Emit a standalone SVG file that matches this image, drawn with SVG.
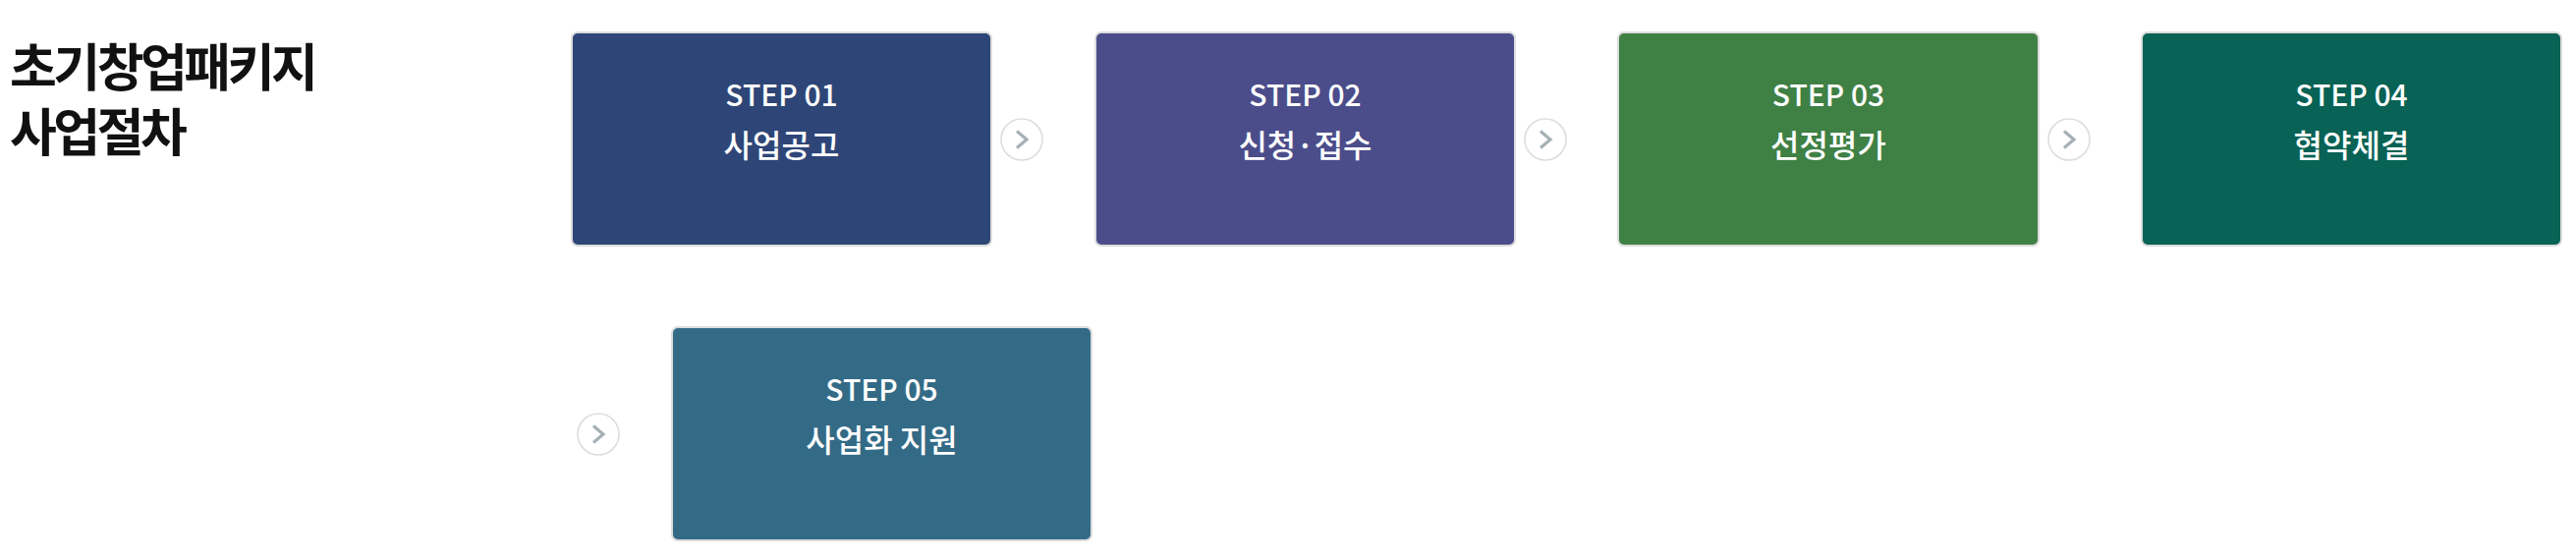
<svg xmlns="http://www.w3.org/2000/svg" xmlns:xlink="http://www.w3.org/1999/xlink" width="2622" height="570" viewBox="0 0 2622 570">
<style>
.box{stroke:#dcdcdc;stroke-width:2}
.step{font-family:"Noto Sans CJK KR","Noto Sans",sans-serif;font-size:30px;font-weight:500;fill:#ffffff;text-anchor:middle}
.lbl{font-family:"Noto Sans CJK KR","Noto Sans",sans-serif;font-size:32px;font-weight:500;fill:#ffffff;text-anchor:middle}
.title{font-family:"Noto Sans CJK KR","Noto Sans",sans-serif;font-size:52px;font-weight:bold;fill:#111111;letter-spacing:-3.5px}
.ring{fill:#ffffff;stroke:#dddddd;stroke-width:1.6}
.chev{fill:none;stroke:#a6b1b5;stroke-width:3.2;stroke-linecap:butt}
</style>
<defs>
<g id="nextbtn">
<circle class="ring" cx="0" cy="0" r="21"/>
<polyline class="chev" points="-5,-8.5 5,0 -5,8.5"/>
</g>
</defs>
<rect width="2622" height="570" fill="#ffffff"/>
<g id="title">
<text class="title" x="10" y="88">초기창업패키지</text>
<text class="title" x="10" y="154">사업절차</text>
</g>
<g id="connectors">
<use xlink:href="#nextbtn" x="1040" y="142"/>
<use xlink:href="#nextbtn" x="1573" y="142"/>
<use xlink:href="#nextbtn" x="2106" y="142"/>
<use xlink:href="#nextbtn" x="609" y="442"/>
</g>
<g id="step1">
<rect class="box" x="582" y="33" width="427" height="217" rx="6" fill="#2e4677"/>
<text class="step" x="795.5" y="108">STEP 01</text>
<text class="lbl" x="795.5" y="160">사업공고</text>
</g>
<g id="step2">
<rect class="box" x="1115" y="33" width="427" height="217" rx="6" fill="#4b4d8b"/>
<text class="step" x="1328.5" y="108">STEP 02</text>
<text class="lbl" x="1328.5" y="160">신청·접수</text>
</g>
<g id="step3">
<rect class="box" x="1647" y="33" width="428" height="217" rx="6" fill="#3f8045"/>
<text class="step" x="1861" y="108">STEP 03</text>
<text class="lbl" x="1861" y="160">선정평가</text>
</g>
<g id="step4">
<rect class="box" x="2180" y="33" width="427" height="217" rx="6" fill="#086255"/>
<text class="step" x="2393.5" y="108">STEP 04</text>
<text class="lbl" x="2393.5" y="160">협약체결</text>
</g>
<g id="step5">
<rect class="box" x="684" y="333" width="427" height="217" rx="6" fill="#336b87"/>
<text class="step" x="897.5" y="408">STEP 05</text>
<text class="lbl" x="897.5" y="460">사업화 지원</text>
</g>
</svg>
